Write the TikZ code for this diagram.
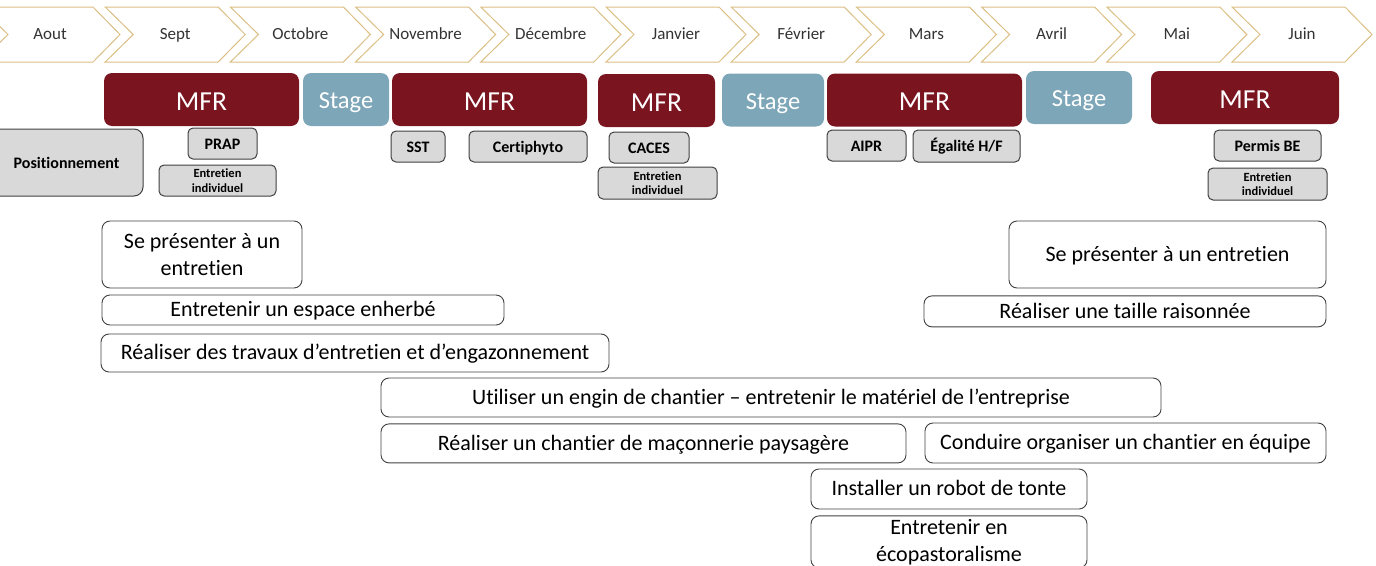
\documentclass[tikz,border=0pt]{standalone}
\usepackage{fontspec}
\setmainfont{Carlito}[Ligatures=NoCommon]
\usepackage{tikz}
\usetikzlibrary{positioning}

\definecolor{mfrred}{HTML}{7A1520}
\definecolor{stageblue}{HTML}{7DA6B8}
\definecolor{gold}{HTML}{DCBF85}
\definecolor{tagfill}{HTML}{D9D9D9}
\definecolor{edge}{HTML}{404040}

\begin{document}
\begin{tikzpicture}[
  x=1pt, y=-1pt,
  month/.style={draw=gold, line width=1pt, fill=white},
  monthlabel/.style={font=\fontsize{17}{20}\selectfont, text=black!80, anchor=base},
  period/.style={rectangle, rounded corners=8pt, fill=#1, text=white,
                 inner sep=0pt, minimum height=53pt,
                 text height=21pt, text depth=0pt,
                 font=\fontsize{27.5}{30}\selectfont},
  period/.default={mfrred},
  stage/.style={period=stageblue, text height=18pt,
                font=\fontsize{24.5}{28}\selectfont},
  tag/.style={rectangle, draw=edge, fill=tagfill, rounded corners=5pt,
              line width=1pt, inner sep=0pt, minimum height=31pt,
              text height=11.5pt, text depth=0pt,
              font=\bfseries\fontsize{16}{18}\selectfont},
  tag small/.style={tag, align=center, minimum height=32pt,
              text height=, text depth=,
              font=\bfseries\fontsize{12.5}{14.5}\selectfont},
  skill/.style={rectangle, draw=edge, rounded corners=8pt, line width=0.9pt,
                inner sep=0pt, align=center,
                text height=13.8pt, text depth=0pt,
                font=\fontsize{22}{27}\selectfont},
  skill two/.style={skill, text height=, text depth=},
  node distance=6pt
]
  \useasboundingbox (0,0) rectangle (1376,565);
  \clip (0,0) rectangle (1376,565);

  % Months
  \foreach \m [count=\i from 0] in {Aout,Sept,Octobre,Novembre,Décembre,Janvier,
                                    Février,Mars,Avril,Mai,Juin} {
    \draw[month] ({-20+125.2*\i},7) -- ++(113,0) -- ++(27,27.5) -- ++(-27,27.5)
      -- ++(-113,0) -- ++(28,-27.5) -- cycle;
    \node[monthlabel] (m\i) at ({50+125.2*\i},39.5) {\m};
  }

  % MFR / Stage
  \node[period, minimum width=195pt] (mfrA)   at (201.5,99.5) {MFR};
  \node[stage,  minimum width=86pt]  (stageA) at (346,99.5)   {Stage};
  \node[period, minimum width=195pt] (mfrB)   at (489.5,99.5) {MFR};
  \node[period, minimum width=117pt] (mfrC)   at (656.5,100.5) {MFR};
  \node[stage,  minimum width=102pt] (stageB) at (773,100)    {Stage};
  \node[period, minimum width=195pt] (mfrD)   at (924.5,100)  {MFR};
  \node[stage,  minimum width=106pt] (stageC) at (1079,97.5)  {Stage};
  \node[period, minimum width=188pt] (mfrE)   at (1245,97.5)  {MFR};

  % Formations
  \node[tag, minimum width=153pt, minimum height=67pt, rounded corners=9pt] (posi) at (66.5,162.5) {Positionnement};
  \node[tag, minimum width=69pt]  (prap)   at (222.5,143.5) {PRAP};
  \node[tag small, minimum width=117pt, minimum height=31pt] (entA) at (217.5,180.5) {Entretien\\individuel};
  \node[tag, minimum width=54pt]  (sst)    at (418,146.5)   {SST};
  \node[tag, minimum width=118pt] (certi)  at (528,146.5)   {Certiphyto};
  \node[tag, minimum width=80pt]  (caces)  at (649,147.5)   {CACES};
  \node[tag small, minimum width=119pt] (entB) at (657.5,183) {Entretien\\individuel};
  \node[tag, minimum width=79pt]  (aipr)   at (866.5,145.5) {AIPR};
  \node[tag, minimum width=107pt, minimum height=32pt] (egal) at (966.5,146) {Égalité H/F};
  \node[tag, minimum width=107pt] (permis) at (1267.5,145.5) {Permis BE};
  \node[tag small, minimum width=119pt, below=of permis] (entC) {Entretien\\individuel};

  % Competences
  \node[skill two, minimum width=200pt, minimum height=67pt] (presA) at (202,254.5) {Se présenter à un\\entretien};
  \node[skill, minimum width=402pt, minimum height=30pt] (enherbe) at (303,310) {Entretenir un espace enherbé};
  \node[skill, minimum width=508pt, minimum height=38pt] (travaux) at (355,353) {Réaliser des travaux d’entretien et d’engazonnement};
  \node[skill, minimum width=317pt, minimum height=67pt] (presB) at (1167.5,254.5) {Se présenter à un entretien};
  \node[skill, minimum width=402pt, minimum height=31pt,
        below=7pt of presB.south east, anchor=north east] (taille) {Réaliser une taille raisonnée};
  \node[skill, minimum width=780pt, minimum height=39pt] (engin) at (771,397.5) {Utiliser un engin de chantier – entretenir le matériel de l’entreprise};
  \node[skill, minimum width=525pt, minimum height=39pt,
        below=of engin.south west, anchor=north west] (maco) {Réaliser un chantier de maçonnerie paysagère};
  \node[skill, minimum width=401pt, minimum height=40pt] (conduire) at (1125.5,443) {Conduire organiser un chantier en équipe};
  \node[skill, minimum width=276pt, minimum height=40pt] (robot) at (949,489) {Installer un robot de tonte};
  \node[skill two, minimum width=276pt, minimum height=52pt, below=of robot] (ecopasto) {Entretenir en\\écopastoralisme};
\end{tikzpicture}
\end{document}
